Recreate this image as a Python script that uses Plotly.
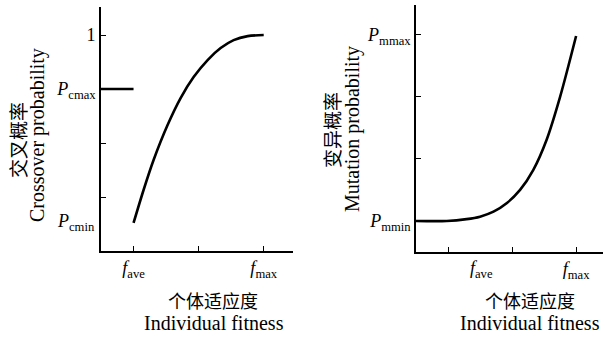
import plotly.graph_objects as go

# ---- data ----
# Left panel: crossover probability vs individual fitness
cross_flat_x = [0.5, 1.0]
cross_flat_y = [3.0, 3.0]
cross_x = [1.0, 1.154, 1.308, 1.523, 1.723, 1.923, 2.138, 2.338, 2.538, 2.754, 3.0]
cross_y = [0.519, 1.13, 1.685, 2.333, 2.833, 3.222, 3.537, 3.759, 3.907, 3.981, 4.0]
cross_ytick_vals = [1, 2, 3, 4]
cross_ytick_text = ["", "", "<i>P</i><sub>cmax</sub>", "1"]
cross_xtick_vals = [1, 2, 3]
cross_xtick_text = ["<i>f</i><sub>ave</sub>", "", "<i>f</i><sub>max</sub>"]
cross_pcmin = 0.52

# Right panel: mutation probability vs individual fitness
mut_x = [0.5, 0.98, 1.29, 1.5, 1.71, 1.92, 2.125, 2.33, 2.54, 2.75, 3.0]
mut_y = [1.0, 1.0, 1.03, 1.07, 1.15, 1.29, 1.5, 1.82, 2.31, 3.0, 3.98]
mut_ytick_vals = [1, 2, 3, 4]
mut_ytick_text = ["<i>P</i><sub>mmin</sub>", "", "", "<i>P</i><sub>mmax</sub>"]
mut_xtick_vals = [1, 2, 3]
mut_xtick_text = ["", "", "<i>f</i><sub>max</sub>"]
mut_fave_x = 1.53

SERIF = "Liberation Serif, Times New Roman, serif"
CJK = "Noto Sans CJK SC"

fig = go.Figure()
fig.add_trace(go.Scatter(x=cross_flat_x, y=cross_flat_y, mode="lines",
                         line=dict(color="black", width=2.6),
                         xaxis="x", yaxis="y", showlegend=False))
fig.add_trace(go.Scatter(x=cross_x, y=cross_y, mode="lines",
                         line=dict(color="black", width=2.6, shape="spline", smoothing=0.8),
                         xaxis="x", yaxis="y", showlegend=False))
fig.add_trace(go.Scatter(x=mut_x, y=mut_y, mode="lines",
                         line=dict(color="black", width=2.6, shape="spline", smoothing=0.8),
                         xaxis="x2", yaxis="y2", showlegend=False))

axis_common = dict(showline=True, linecolor="black", linewidth=1.6, ticks="inside",
                   ticklen=5, tickwidth=1.4, tickcolor="black", showgrid=False,
                   zeroline=False, tickfont=dict(family=SERIF, size=18, color="black"))

fig.update_layout(
    width=605, height=338,
    margin=dict(l=0, r=0, t=0, b=0),
    paper_bgcolor="white", plot_bgcolor="white",
    xaxis=dict(domain=[101/605, 293/605], range=[0.5, 3.45], anchor="y",
               tickmode="array", tickvals=cross_xtick_vals, ticktext=cross_xtick_text, **axis_common),
    yaxis=dict(domain=[1-251/338, 1-7/338], range=[0, 4.52], anchor="x",
               tickmode="array", tickvals=cross_ytick_vals, ticktext=cross_ytick_text, **axis_common),
    xaxis2=dict(domain=[416/605, 603/605], range=[0.5, 3.42], anchor="y2",
                tickmode="array", tickvals=mut_xtick_vals, ticktext=mut_xtick_text, **axis_common),
    yaxis2=dict(domain=[1-252/338, 1-5/338], range=[0.5, 4.48], anchor="x2",
                tickmode="array", tickvals=mut_ytick_vals, ticktext=mut_ytick_text, **axis_common),
)

ann = []
# P_cmin label (no tick in the original)
ann.append(dict(x=0.5, y=cross_pcmin, xref="x", yref="y", xanchor="right", yanchor="middle",
                xshift=-4, text="<i>P</i><sub>cmin</sub>", showarrow=False,
                font=dict(family=SERIF, size=18, color="black")))
# f_ave label on the right panel (between ticks)
ann.append(dict(x=mut_fave_x, y=0.5, xref="x2", yref="y2", xanchor="center", yanchor="top",
                yshift=-4, text="<i>f</i><sub>ave</sub>", showarrow=False,
                font=dict(family=SERIF, size=18, color="black")))

def txt(x, y, s, fam, size, angle=0):
    ann.append(dict(x=x/605, y=1-y/338, xref="paper", yref="paper", xanchor="center",
                    yanchor="middle", text=s, showarrow=False, textangle=angle,
                    font=dict(family=fam, size=size, color="black")))

txt(17, 140, "交叉概率", CJK, 19, -90)
txt(38, 135, "Crossover probability", SERIF, 20, -90)
txt(331, 130, "变异概率", CJK, 19, -90)
txt(352, 129, "Mutation probability", SERIF, 20, -90)
txt(213, 300, "个体适应度", CJK, 18)
txt(214, 323, "Individual fitness", SERIF, 20)
txt(530, 300, "个体适应度", CJK, 18)
txt(530, 323, "Individual fitness", SERIF, 20)

fig.update_layout(annotations=ann)
fig.write_html("out.html")
